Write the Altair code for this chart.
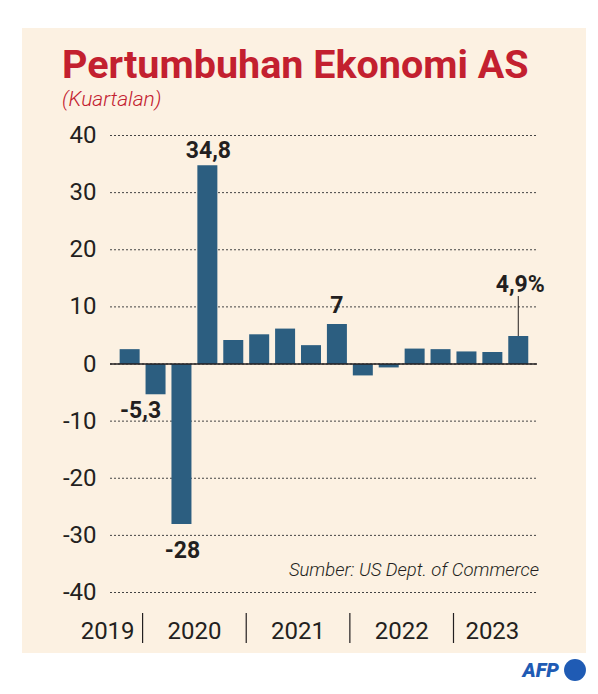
import altair as alt
import pandas as pd

# Quarterly US GDP growth (annualised, %)
quarters = ["2019 T4",
            "2020 T1", "2020 T2", "2020 T3", "2020 T4",
            "2021 T1", "2021 T2", "2021 T3", "2021 T4",
            "2022 T1", "2022 T2", "2022 T3", "2022 T4",
            "2023 T1", "2023 T2", "2023 T3"]
years = [2019,
         2020, 2020, 2020, 2020,
         2021, 2021, 2021, 2021,
         2022, 2022, 2022, 2022,
         2023, 2023, 2023]
growth = [2.6,
          -5.3, -28.0, 34.8, 4.2,
          5.2, 6.2, 3.3, 7.0,
          -2.0, -0.6, 2.7, 2.6,
          2.2, 2.1, 4.9]
y_ticks = [-40, -30, -20, -10, 0, 10, 20, 30, 40]

title_text = "Pertumbuhan Ekonomi AS"
subtitle_text = "(Kuartalan)"
source_text = "Sumber: US Dept. of Commerce"

df = pd.DataFrame({"quarter": quarters, "year": years, "value": growth})
df["idx"] = range(len(df))

# year boundaries and label centres
bounds = pd.DataFrame({"pos": [i - 0.5 for i in range(1, len(df)) if years[i] != years[i - 1]]})
yr = df.groupby("year")["idx"].agg(["mean", "count", "max"]).reset_index()
yr_full = yr[yr["count"] > 1].rename(columns={"mean": "pos"})
yr_first = yr[yr["count"] == 1].assign(pos=lambda d: d["max"] + 0.5)

W, H = 427, 457
PAD = {"left": 110, "top": 135.5, "right": 61, "bottom": 101.5}

FONT = "Roboto"
DARK = "#231f20"
RED = "#c3202f"
BAR = "#2c5e80"
PANEL = "#fcf1e2"

xs = alt.Scale(domain=[-0.565, 15.53], nice=False, zero=False)
ys = alt.Scale(domain=[-40, 40], nice=False, zero=False)
X = alt.X("idx:Q", scale=xs, axis=None)

panel = alt.Chart(pd.DataFrame({"k": [0]})).mark_rect(color=PANEL).encode(
    x=alt.value(22 - PAD["left"]), x2=alt.value(586 - PAD["left"]),
    y=alt.value(28 - PAD["top"]), y2=alt.value(653 - PAD["top"]),
)

grid = alt.Chart(pd.DataFrame({"t": y_ticks})).mark_rule(
    color="#444", strokeWidth=1, strokeDash=[2, 2]
).encode(
    y=alt.Y("t:Q", scale=ys,
            axis=alt.Axis(values=y_ticks, title=None, domain=False, ticks=False, grid=False,
                          labelFont=FONT, labelFontSize=24, labelColor=DARK, labelPadding=14,
                          zindex=1,
                          labelExpr="datum.value < 0 ? '-' + abs(datum.value) : '' + datum.value")),
    x=alt.value(0), x2=alt.value(W),
)

bars = alt.Chart(df).mark_bar(width=20, color=BAR).encode(
    x=X,
    y=alt.Y("value:Q", scale=ys),
    y2=alt.datum(0),
)

zero = alt.Chart(pd.DataFrame({"z": [0]})).mark_rule(color=DARK, strokeWidth=1.5).encode(
    y=alt.Y("z:Q", scale=ys), x=alt.value(0), x2=alt.value(W),
)

base = alt.Chart(df).transform_calculate(
    lbl="replace(replace(format(datum.value, '.1~f'), '.', ','), '\u2212', '-')"
)


def value_label(q, dx, dy, suffix=""):
    return base.transform_filter(alt.datum.quarter == q).transform_calculate(
        txt=f"datum.lbl + '{suffix}'"
    ).mark_text(font=FONT, fontSize=23, fontWeight="bold", color=DARK,
                baseline="alphabetic", align="center", dx=dx, dy=dy).encode(
        x=X, y=alt.Y("value:Q", scale=ys), text="txt:N")


labels = [
    value_label("2020 T1", -15, 24),
    value_label("2020 T2", 1, 34),
    value_label("2020 T3", 1, -7),
    value_label("2021 T4", 0, -11),
    value_label("2023 T3", 2, -44, "%"),
]

leader = alt.Chart(df).transform_filter(alt.datum.quarter == "2023 T3").transform_calculate(
    top="datum.value + 7"
).mark_rule(color=DARK, strokeWidth=1).encode(
    x=alt.X("idx:Q", scale=xs), y=alt.Y("value:Q", scale=ys), y2="top:Q",
)

dividers = alt.Chart(bounds).mark_rule(color=DARK, strokeWidth=1.2).encode(
    x=alt.X("pos:Q", scale=xs), y=alt.value(613 - PAD["top"]), y2=alt.value(643 - PAD["top"]),
)

year_full = alt.Chart(yr_full).mark_text(
    font=FONT, fontSize=24, color=DARK, baseline="alphabetic", align="center"
).encode(x=alt.X("pos:Q", scale=xs), y=alt.value(639 - PAD["top"]), text="year:N")

year_first = alt.Chart(yr_first).mark_text(
    font=FONT, fontSize=24, color=DARK, baseline="alphabetic", align="right", dx=-8
).encode(x=alt.X("pos:Q", scale=xs), y=alt.value(639 - PAD["top"]), text="year:N")


def note(text, x, y, **kw):
    return alt.Chart(pd.DataFrame({"t": [text]})).mark_text(**kw).encode(
        x=alt.value(x - PAD["left"]), y=alt.value(y - PAD["top"]), text="t:N")


title = note(title_text, 62, 78, font=FONT, fontSize=39.5, fontWeight="bold", color=RED,
             align="left", baseline="alphabetic")
subtitle = note(subtitle_text, 62, 106, font=FONT, fontSize=21, fontStyle="italic",
                fontWeight=300, color=RED, align="left", baseline="alphabetic")
source = note(source_text, 539, 576, font=FONT, fontSize=18.5, fontStyle="italic",
              fontWeight=300, color=DARK, align="right", baseline="alphabetic")
afp_text = note("AFP", 559, 677, font=FONT, fontSize=20, fontStyle="italic",
                fontWeight=900, color="#1f5bb4", align="right", baseline="alphabetic")
afp_dot = alt.Chart(pd.DataFrame({"k": [0]})).mark_circle(
    size=480, color="#1f5bb4", opacity=1
).encode(x=alt.value(575 - PAD["left"]), y=alt.value(670 - PAD["top"]))

chart = alt.layer(
    panel, grid, bars, zero, *labels, leader, dividers, year_full, year_first,
    title, subtitle, source, afp_text, afp_dot,
).properties(
    width=W, height=H,
    autosize=alt.AutoSizeParams(type="none"),
    padding=PAD,
    background="white",
).configure_view(stroke=None)

chart.save("out.html", embed_options={"renderer": "svg", "actions": False})
